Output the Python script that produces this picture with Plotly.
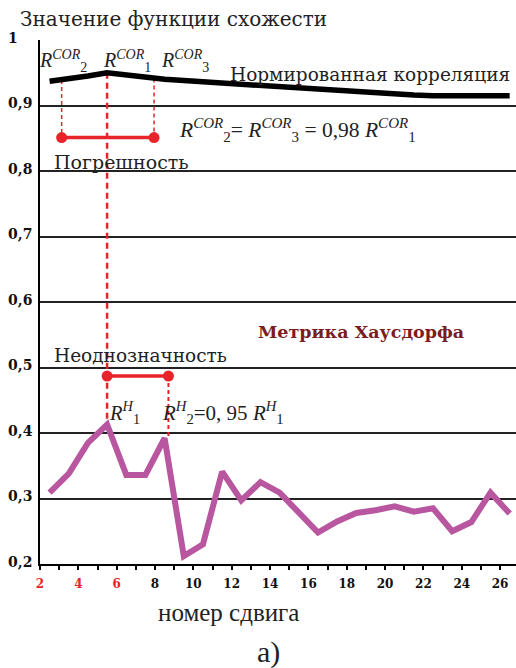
import numpy as np
import plotly.graph_objects as go

# Shift positions and the two similarity curves
shift_pos = [2.5, 3.5, 4.5, 5.5, 6.5, 7.5, 8.5, 9.5, 10.5, 11.5, 12.5, 13.5, 14.5,
             15.5, 16.5, 17.5, 18.5, 19.5, 20.5, 21.5, 22.5, 23.5, 24.5, 25.5, 26.5]
norm_corr = [0.937, 0.940, 0.945, 0.950, 0.946, 0.942, 0.940, 0.938, 0.936, 0.934,
             0.932, 0.931, 0.929, 0.926, 0.924, 0.922, 0.921, 0.920, 0.918, 0.916,
             0.915, 0.915, 0.915, 0.915, 0.915]
hausdorff = [0.309, 0.338, 0.385, 0.413, 0.336, 0.336, 0.392, 0.212, 0.230, 0.341,
             0.297, 0.325, 0.309, 0.278, 0.248, 0.265, 0.278, 0.282, 0.288, 0.280,
             0.285, 0.250, 0.264, 0.309, 0.277]

# Error / ambiguity markers
cor_err_x = [3.13, 7.95]          # R^COR_2 and R^COR_3 positions
cor_err_level = 0.851
peak_x = 5.5                       # common peak position
amb_x = [5.5, 8.7]                 # R^H_1 and R^H_2 positions
amb_level = 0.487

x_ticks = [2, 3, 4, 5, 6, 7, 8, 9, 10, 11, 12, 13, 14, 15, 16, 17, 18, 19, 20,
           21, 22, 23, 24, 25, 26, 27]
red_ticks = [2, 4, 6]
y_ticks = [0.2, 0.3, 0.4, 0.5, 0.6, 0.7, 0.8, 0.9, 1.0]
y_grid = [0.3, 0.4, 0.5, 0.6, 0.7, 0.8, 0.9]

RED = "#e8232a"
PURPLE = "#b8569f"

fig = go.Figure()

# empty trace that anchors the labelled value axis
fig.add_trace(go.Scatter(x=[None], y=[None], mode="lines", yaxis="y", hoverinfo="skip"))

# dashed drop lines (under the curves)
corr_at = lambda x: float(np.interp(x, shift_pos, norm_corr))
for xv in cor_err_x:
    fig.add_trace(go.Scatter(x=[xv, xv], y=[corr_at(xv), cor_err_level], mode="lines",
                             line=dict(color=RED, width=1.5, dash="4px,3px"),
                             hoverinfo="skip", yaxis="y2"))
fig.add_trace(go.Scatter(x=[peak_x, peak_x], y=[corr_at(peak_x), max(hausdorff)], mode="lines",
                         line=dict(color=RED, width=2.5, dash="6px,4px"),
                         hoverinfo="skip", yaxis="y2"))
fig.add_trace(go.Scatter(x=[amb_x[1], amb_x[1]], y=[amb_level, hausdorff[6]], mode="lines",
                         line=dict(color=RED, width=2, dash="4px,3px"),
                         hoverinfo="skip", yaxis="y2"))

# error bars
fig.add_trace(go.Scatter(x=cor_err_x, y=[cor_err_level, cor_err_level], mode="lines+markers",
                         line=dict(color=RED, width=3.5), marker=dict(color=RED, size=11),
                         hoverinfo="skip", yaxis="y2"))
fig.add_trace(go.Scatter(x=amb_x, y=[amb_level, amb_level], mode="lines+markers",
                         line=dict(color=RED, width=3.5), marker=dict(color=RED, size=11),
                         hoverinfo="skip", yaxis="y2"))

# curves
fig.add_trace(go.Scatter(x=shift_pos, y=norm_corr, mode="lines",
                         line=dict(color="black", width=5.5), yaxis="y2"))
fig.add_trace(go.Scatter(x=shift_pos, y=hausdorff, mode="lines",
                         line=dict(color=PURPLE, width=6), yaxis="y2"))

tick_text = []
for t in x_ticks:
    if t % 2:
        tick_text.append("")
    elif t in red_ticks:
        tick_text.append(f'<span style="color:{RED}">{t}</span>')
    else:
        tick_text.append(str(t))

y_text = [f"{v:.1f}".replace(".", ",") for v in y_ticks]
y_text[-1] = "1\u00a0\u00a0\u00a0"

SERIF = "Liberation Serif"
LAB = "DejaVu Serif"


def rlabel(sup, sub):
    return f"<i>R</i><sup><i>{sup}</i></sup><sub>{sub}</sub>"


annotations = [
    dict(text="Значение функции схожести", xref="paper", yref="paper", x=-0.046, y=1.041,
         xanchor="left", yanchor="middle", font=dict(family=LAB, size=20, color="#222")),
    dict(text="Нормированная корреляция", x=11.81, y=0.948,
         xanchor="left", yanchor="middle", font=dict(family=LAB, size=18.5, color="#222")),
    dict(text=rlabel("COR", "2"), x=2.0, xshift=-3, y=0.968, xanchor="left", yanchor="middle",
         font=dict(family=SERIF, size=20, color="#222")),
    dict(text=rlabel("COR", "1"), x=5.18, y=0.968, xanchor="left", yanchor="middle",
         font=dict(family=SERIF, size=20, color="#222")),
    dict(text=rlabel("COR", "3"), x=8.2, y=0.968, xanchor="left", yanchor="middle",
         font=dict(family=SERIF, size=20, color="#222")),
    dict(text=rlabel("COR", "2") + "= " + rlabel("COR", "3") + " = 0,98 " + rlabel("COR", "1"),
         x=9.15, y=0.863, xanchor="left", yanchor="middle",
         font=dict(family=SERIF, size=21.5, color="#222")),
    dict(text="Погрешность", x=2.6, y=0.814, xanchor="left", yanchor="middle",
         font=dict(family=LAB, size=19, color="#222")),
    dict(text="<b>Метрика Хаусдорфа</b>", x=18.77, y=0.554, xanchor="center", yanchor="middle",
         font=dict(family=LAB, size=17.5, color="#7b1c1f")),
    dict(text="Неоднозначность", x=2.6, y=0.519, xanchor="left", yanchor="middle",
         font=dict(family=LAB, size=18.5, color="#222")),
    dict(text=rlabel("H", "1"), x=5.5, y=0.432, xanchor="left", yanchor="middle",
         font=dict(family=SERIF, size=20.5, color="#222")),
    dict(text=rlabel("H", "2") + "=0, 95 " + rlabel("H", "1"), x=8.27, y=0.432,
         xanchor="left", yanchor="middle", font=dict(family=SERIF, size=21, color="#222")),
    dict(text="номер сдвига", xref="paper", yref="paper", x=0.395, y=-0.092,
         xanchor="center", yanchor="middle", font=dict(family=SERIF, size=25, color="#222")),
    dict(text="а)", xref="paper", yref="paper", x=0.479, y=-0.168,
         xanchor="center", yanchor="middle", font=dict(family=SERIF, size=30, color="#222")),
]
for a in annotations:
    a.setdefault("xref", "x")
    a.setdefault("yref", "y2")
    a["showarrow"] = False

fig.update_layout(
    width=516, height=668,
    margin=dict(l=40, r=0, t=40, b=104),
    paper_bgcolor="white", plot_bgcolor="white",
    showlegend=False,
    xaxis=dict(range=[2, 26.83], tickvals=x_ticks, ticktext=tick_text,
               ticks="outside", ticklen=4, tickwidth=1.5, tickcolor="black",
               showline=True, linecolor="black", linewidth=1.5, showgrid=False,
               zeroline=False,
               tickfont=dict(family=LAB, size=12, color="#111", weight="bold"),
               ticklabelstandoff=4),
    yaxis=dict(range=[0.2, 1.0], tickvals=y_ticks, ticktext=y_text,
               showline=True, linecolor="black", linewidth=1.5, showgrid=False,
               zeroline=False, ticks="", ticklabelshift=-2, ticklabelstandoff=3,
               tickfont=dict(family=LAB, size=14, color="#111", weight="bold")),
    yaxis2=dict(range=[0.2, 1.0], overlaying="y", tickvals=y_grid, showticklabels=False,
                showgrid=True, gridcolor="#222", gridwidth=1.6, zeroline=False,
                showline=False, ticks=""),
    annotations=annotations,
)

fig.write_html("out.html")
